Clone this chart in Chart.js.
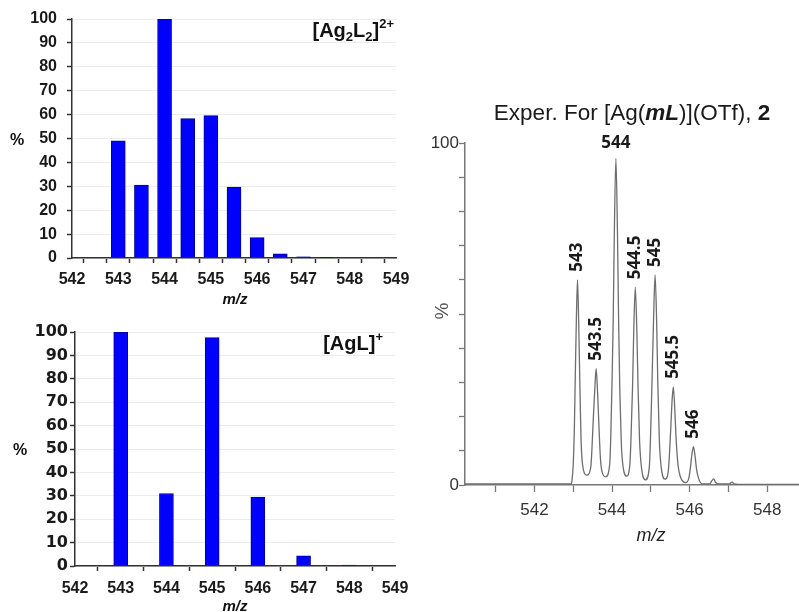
<!DOCTYPE html>
<html>
<head>
<meta charset="utf-8">
<script src="https://cdn.jsdelivr.net/npm/chart.js@4.4.1/dist/chart.umd.min.js"></script>
<style>
  body { margin: 0; background: #fff; }
  #wrap { position: relative; width: 799px; height: 612px; overflow: hidden; }
  .panel { position: absolute; }
</style>
</head>
<body>
<div id="wrap">
  <canvas id="calcDimer" class="panel" width="410" height="312" style="left:0;top:0"></canvas>
  <canvas id="calcMono" class="panel" width="410" height="312" style="left:0;top:300px"></canvas>
  <canvas id="exper" class="panel" width="389" height="522" style="left:410px;top:90px"></canvas>
</div>
<script>
/* Calculated pattern, [Ag2L2]2+ */
let dimerMz = [543, 543.5, 544, 544.5, 545, 545.5, 546, 546.5, 547, 547.5];
let dimerPct = [49, 30.5, 100, 58.3, 59.6, 29.7, 8.5, 1.7, 0.5, 0.1];

/* Calculated pattern, [AgL]+ */
let monoMz = [543, 544, 545, 546, 547, 548];
let monoPct = [100, 31, 97.6, 29.4, 4.3, 0.4];

let specMz = [540.21, 542.0, 542.95,
    542.97, 543.00, 543.03, 543.05, 543.08, 543.11, 543.14, 543.17, 543.20, 543.24, 543.35,
    543.45, 543.48, 543.52, 543.56, 543.59, 543.62, 543.66, 543.70, 543.74, 543.84,
    543.94, 543.97, 544.00, 544.03, 544.06, 544.10, 544.14, 544.17, 544.20, 544.24, 544.29, 544.38,
    544.46, 544.49, 544.53, 544.56, 544.60, 544.64, 544.67, 544.71, 544.76, 544.86,
    544.96, 544.99, 545.03, 545.07, 545.11, 545.15, 545.18, 545.22, 545.27, 545.37,
    545.45, 545.49, 545.52, 545.55, 545.58, 545.61, 545.65, 545.70, 545.76, 545.90,
    545.98, 546.02, 546.06, 546.10, 546.14, 546.18, 546.23, 546.32,
    546.52, 546.57, 546.62, 546.67, 546.74,
    547.02, 547.07, 547.10, 547.15, 547.25, 548.82];
let specPct = [0.3, 0.3, 0.3,
    1.5, 6, 17, 30, 48, 60, 48, 30, 14, 6, 2.9,
    5, 10, 20, 29, 34, 29, 18, 8, 4, 2.4,
    6, 15, 30, 48, 74, 95.5, 74, 48, 28, 12, 5, 2.6,
    6, 14, 29, 45, 57.8, 45, 29, 13, 5, 1.5,
    5, 13, 30, 48, 61.4, 48, 30, 13, 5, 1.7,
    4, 11, 18, 25, 28.7, 24, 14, 6, 2.5, 0.7,
    2, 5, 9, 11.2, 8.5, 4.5, 2, 0.3,
    0.3, 1.2, 1.8, 0.8, 0.3,
    0.3, 0.7, 0.8, 0.3, 0.2, 0.2];

/* Peak labels on the experimental trace */
let peakNames = ["543", "543.5", "544", "544.5", "545", "545.5", "546"];
let peakMz = [543.11, 543.59, 544.10, 544.60, 545.11, 545.58, 546.10];
let peakPct = [60, 34, 95.5, 57.8, 61.4, 28.7, 11.2];

const SANS = "'Liberation Sans', Arial, sans-serif";
const WIDE = "'DejaVu Sans', 'Liberation Sans', sans-serif";
const LABEL = "'Open Sans', 'Liberation Sans', sans-serif";

/* write a run of differently styled pieces on one baseline */
function drawParts(ctx, parts, x, y, align, color) {
    ctx.save();
    ctx.fillStyle = color || "#111";
    ctx.textAlign = "left";
    ctx.textBaseline = "alphabetic";
    let w = 0;
    parts.forEach(p => { ctx.font = p[1]; w += ctx.measureText(p[0]).width; });
    let cx = align == "right" ? x - w : (align == "center" ? x - w / 2 : x);
    parts.forEach(p => {
        ctx.font = p[1];
        ctx.fillText(p[0], cx, y + (p[2] || 0));
        cx += ctx.measureText(p[0]).width;
    });
    ctx.restore();
}

/* Bar panels (calculated patterns) */
function barPanel(id, mz, pct, opt) {
    return new Chart(id, {
        type: "bar",
        data: {
            datasets: [{
                data: mz.map((m, i) => ({ x: m, y: pct[i] })),
                backgroundColor: "#0000ff",
                borderColor: "#000090",
                borderWidth: 1,
                barThickness: 14,
            }]
        },
        options: {
            responsive: false,
            animation: false,
            events: [],
            layout: { padding: { left: 0, top: opt.top, right: opt.right, bottom: 0 } },
            plugins: { legend: { display: false }, tooltip: { enabled: false } },
            scales: {
                x: {
                    type: "linear", min: 542, max: 549, offset: false,
                    afterFit: s => { s.height = opt.xh; s.paddingLeft = 0; s.paddingRight = 0; },
                    ticks: {
                        stepSize: opt.step, autoSkip: false, maxRotation: 0, padding: opt.xpad,
                        color: "#1a1a1a",
                        font: { family: SANS, size: 16, weight: "bold" },
                        callback: v => Number.isInteger(v) ? v : "",
                    },
                    grid: { drawOnChartArea: false, tickLength: 5, tickColor: "#333", tickWidth: 1.5 },
                    border: { color: "#333", width: 1.5 },
                },
                y: {
                    min: 0, max: 100,
                    afterFit: s => { s.width = opt.yw; s.paddingTop = 0; s.paddingBottom = 0; },
                    ticks: {
                        stepSize: 10, padding: opt.ypad, color: "#1a1a1a",
                        font: { family: opt.yfont, size: 16, weight: "bold" },
                    },
                    grid: { color: "#ececec", tickColor: "#333", tickLength: 5, tickWidth: 1.5 },
                    border: { color: "#333", width: 1.5 },
                }
            }
        },
        plugins: [{ id: "texts", afterDraw: opt.draw }]
    });
}

barPanel("calcDimer", dimerMz, dimerPct, {
    top: 19, right: 14, xh: 312 - 258, yw: 72, ypad: 10, xpad: 7, step: 0.5, yfont: SANS,
    draw: chart => {
        let ctx = chart.ctx;
        let b20 = "bold 20px " + SANS, b13 = "bold 13px " + SANS;
        drawParts(ctx, [["%", "bold 16px " + SANS]], 17, 145, "center");
        drawParts(ctx, [["m/z", "italic bold 15px " + SANS]], 235, 304, "center");
        drawParts(ctx, [["[Ag", b20], ["2", b13, 4], ["L", b20], ["2", b13, 4], ["]", b20], ["2+", b13, -9]], 394, 37, "right");
    }
});

barPanel("calcMono", monoMz, monoPct, {
    top: 32, right: 15, xh: 312 - 266, yw: 75, ypad: 2, xpad: 8, step: 1, yfont: WIDE,
    draw: chart => {
        let ctx = chart.ctx;
        drawParts(ctx, [["%", "bold 16px " + SANS]], 20, 155, "center");
        drawParts(ctx, [["m/z", "italic bold 15px " + SANS]], 235, 311, "center");
        drawParts(ctx, [["[AgL]", "bold 20px " + SANS], ["+", "bold 13px " + SANS, -9]], 383, 50, "right");
    }
});

/* Experimental spectrum */
new Chart("exper", {
    type: "line",
    data: {
        datasets: [{
            data: specMz.map((m, i) => ({ x: m, y: specPct[i] })),
            borderColor: "#6e6e6e",
            borderWidth: 1.3,
            pointRadius: 0,
            cubicInterpolationMode: "monotone",
            clip: false,
        }]
    },
    options: {
        responsive: false,
        animation: false,
        events: [],
        layout: { padding: { left: 0, top: 53, right: 0, bottom: 0 } },
        plugins: { legend: { display: false }, tooltip: { enabled: false } },
        scales: {
            x: {
                type: "linear", min: 540.21, max: 548.82,
                afterFit: s => { s.height = 522 - 395; s.paddingLeft = 0; s.paddingRight = 0; },
                ticks: {
                    stepSize: 1, includeBounds: false, autoSkip: false, maxRotation: 0, padding: 8,
                    color: "#333", font: { family: SANS, size: 17 },
                    callback: v => v % 2 == 0 ? v : "",
                },
                grid: { drawOnChartArea: false, tickLength: 7, tickColor: "#777", tickWidth: 1.3 },
                border: { color: "#777", width: 1.5 },
            },
            y: {
                min: 0, max: 100,
                afterFit: s => { s.width = 55; s.paddingTop = 0; s.paddingBottom = 0; },
                ticks: {
                    stepSize: 10, padding: 0, color: "#333", font: { family: SANS, size: 17 },
                    callback: v => (v == 0 || v == 100) ? v : "",
                },
                grid: { drawOnChartArea: false, tickLength: 6, tickColor: "#777", tickWidth: 1.3 },
                border: { color: "#777", width: 1.5 },
            }
        }
    },
    plugins: [{
        id: "texts",
        afterDraw: chart => {
            let ctx = chart.ctx;
            let xs = chart.scales.x, ys = chart.scales.y;
            let r = "22.5px " + SANS;
            drawParts(ctx, [["Exper. For [Ag(", r], ["mL", "italic bold 22.5px " + SANS], [")](OTf), ", r], ["2", "bold 22.5px " + SANS]], 222, 30, "center", "#1a1a1a");
            drawParts(ctx, [["m/z", "italic 18px " + SANS]], 241, 451, "center", "#222");

            ctx.save();
            ctx.fillStyle = "#555";
            ctx.font = "19px " + SANS;
            ctx.translate(33, 221);
            ctx.rotate(-Math.PI / 2);
            ctx.textAlign = "center";
            ctx.textBaseline = "middle";
            ctx.fillText("%", 0, 0);
            ctx.restore();

            let top = Math.max(...peakPct);
            peakNames.forEach((name, i) => {
                let px = xs.getPixelForValue(peakMz[i]);
                let py = ys.getPixelForValue(peakPct[i]);
                ctx.save();
                ctx.fillStyle = "#1a1a1a";
                ctx.font = "bold 17px " + LABEL;
                if (peakPct[i] == top) {
                    ctx.textAlign = "center";
                    ctx.textBaseline = "alphabetic";
                    ctx.fillText(name, px, py - 10);
                } else {
                    ctx.translate(px, py - 8);
                    ctx.rotate(-Math.PI / 2);
                    ctx.textAlign = "left";
                    ctx.textBaseline = "middle";
                    ctx.fillText(name, 0, 0);
                }
                ctx.restore();
            });
        }
    }]
});
</script>
</body>
</html>
